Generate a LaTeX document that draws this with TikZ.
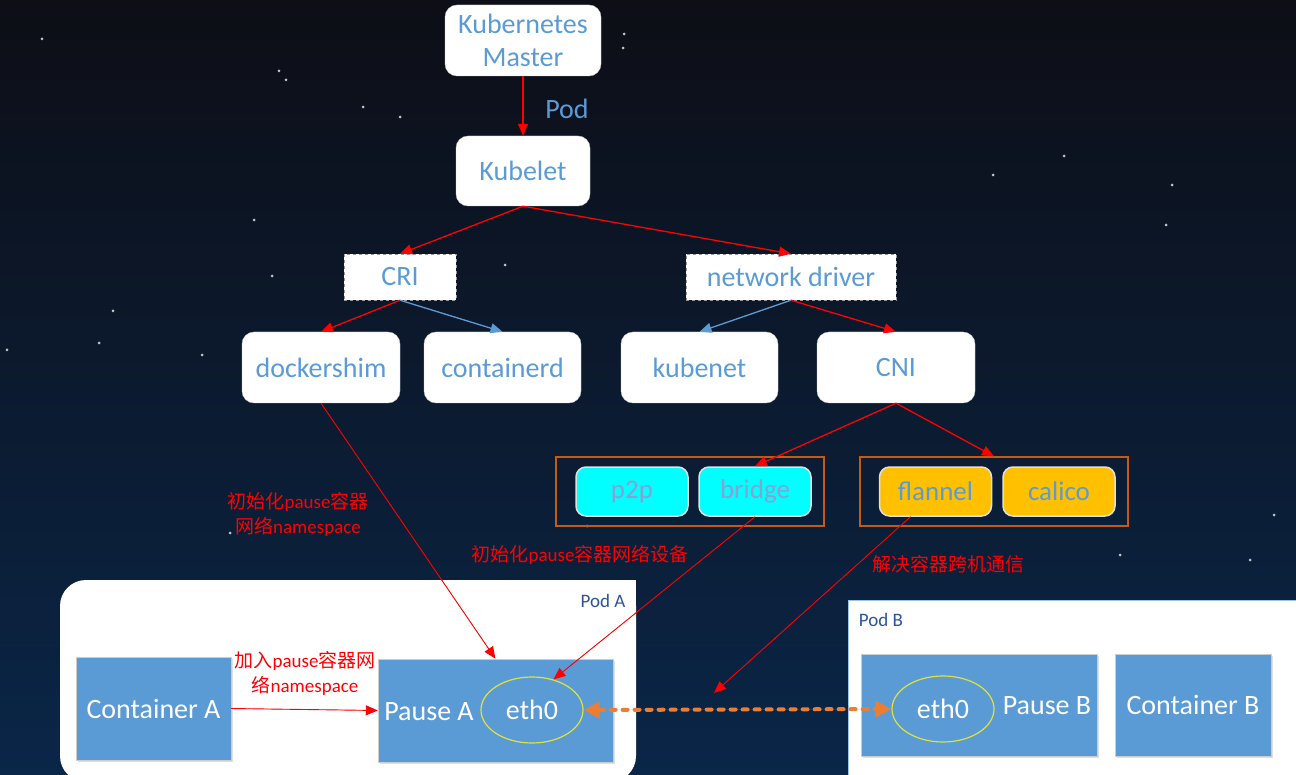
\documentclass[tikz,border=0pt]{standalone}
\usepackage{fontspec}
\setmainfont{Carlito}
\newfontfamily\cjk{Noto Sans CJK SC}
\usepackage{tikz}
\usetikzlibrary{shapes,arrows.meta,positioning}
\usetikzlibrary{shadows}

\definecolor{kblue}{RGB}{91,155,213}
\definecolor{kred}{RGB}{255,0,0}
\definecolor{korange}{RGB}{237,125,49}
\definecolor{kframe}{RGB}{197,90,17}
\definecolor{kcyan}{RGB}{0,255,255}
\definecolor{kgold}{RGB}{255,192,0}
\definecolor{klav}{RGB}{138,160,210}
\definecolor{kpod}{RGB}{46,84,150}
\definecolor{kyel}{RGB}{225,225,60}
\definecolor{ktop}{RGB}{13,14,22}
\definecolor{kbot}{RGB}{10,38,72}

\newcommand{\zh}[1]{{\cjk #1}}
\newcommand{\bigtxt}{\fontsize{28}{33}\selectfont}

\tikzset{
	wbox/.style={draw=gray!40, fill=white, rounded corners=12pt, text=kblue, font=\bigtxt, inner sep=0pt, align=center},
	dbox/.style={draw=gray!80, dashed, fill=white, text=kblue, font=\bigtxt, inner sep=0pt},
	plug/.style={draw=gray!25, line width=1.5pt, rounded corners=10pt, font=\fontsize{27}{30}\selectfont, minimum width=112pt, minimum height=49pt, inner sep=0pt},
	frame/.style={draw=kframe, line width=1.3pt, minimum width=268pt, minimum height=69pt, inner sep=0pt},
	cbox/.style={draw=gray!40, fill=kblue, text=white, font=\bigtxt, inner sep=0pt, drop shadow={opacity=0.25, shadow xshift=2pt, shadow yshift=-2pt}},
	eth/.style={ellipse, draw=kyel, line width=1.2pt, minimum width=102pt, minimum height=66pt, inner sep=0pt, text=white, font=\bigtxt},
	note/.style={text=kred, font=\fontsize{19}{25}\selectfont, align=center},
	redarr/.style={-{Triangle[length=12pt,width=10pt]}, draw=kred, fill=kred, line width=1.3pt},
	bluearr/.style={-{Triangle[length=12pt,width=10pt]}, draw=kblue, fill=kblue, line width=1.3pt},
	thinarr/.style={-{Triangle[length=12pt,width=10pt]}, draw=kred, fill=kred, line width=0.9pt}
}

\begin{document}
\begin{tikzpicture}[x=1pt, y=-1pt]
	\useasboundingbox (0,0) rectangle (1296,775);
	\shade[top color=ktop, bottom color=kbot] (0,0) rectangle (1296,775);
	% stars
	\foreach \x/\y in {42/39, 279/71, 286/80, 363/107, 400/117, 254/220, 272/276, 329/329, 113/311, 99/343, 7/350, 202/355, 624/34, 623/48, 993/175, 1064/156, 1172/185, 1166/225, 1120/555, 1274/515, 1250/560, 587/526, 230/533, 505/265}
		\fill[gray!45] (\x,\y) circle (1.5pt);

	% pods
	\fill[white, rounded corners=26pt] (60,580) rectangle (636,782);
	\fill[white] (600,580) rectangle (636,620);
	\node[text=kpod, font=\fontsize{19}{22}\selectfont] (podA) at (603,601) {Pod A};
	\fill[white] (848,600) rectangle (1300,780);
	\draw[kblue!60, line width=0.8pt] (848,780) -- (848,600) -- (1300,600);
	\node[text=kpod, font=\fontsize{19}{22}\selectfont] (podB) at (881,620) {Pod B};

	% control plane
	\node[wbox, minimum width=156pt, minimum height=71pt] (master) at (523,40.5) {Kubernetes\\Master};
	\node[wbox, minimum width=134pt, minimum height=70pt] (kubelet) at (523,171) {Kubelet};
	\node[dbox, minimum width=112pt, minimum height=46pt] (cri) at (400,277) {CRI};
	\node[dbox, minimum width=210pt, minimum height=46pt] (netdrv) at (791,277) {network driver};
	\node[wbox, minimum width=158pt, minimum height=71pt] (dockershim) at (321,367.5) {dockershim};
	\node[wbox, minimum width=157pt, minimum height=71pt] (containerd) at (502.5,367.5) {containerd};
	\node[wbox, minimum width=157pt, minimum height=71pt] (kubenet) at (699.5,367.5) {kubenet};
	\node[wbox, minimum width=158pt, minimum height=71pt] (cni) at (896,367.5) {CNI};

	% plugins
	\node[frame] (frameA) at (690,491.5) {};
	\node[frame] (frameB) at (994,491.5) {};
	\node[plug, fill=kcyan, text=klav] (p2p) at (632,491.5) {p2p};
	\node[plug, fill=kcyan, text=klav] (bridge) at (755,491.5) {bridge};
	\node[plug, fill=kgold, text=kblue] (flannel) at (935.5,491.5) {flannel};
	\node[plug, fill=kgold, text=kblue] (calico) at (1059,491.5) {calico};

	% containers
	\node[cbox, minimum width=155pt, minimum height=103pt] (contA) at (153.5,708.5) {Container A};
	\node[cbox, minimum width=235pt, minimum height=103pt] (pauseA) at (495.5,710.5) {};
	\node[text=white, font=\bigtxt] (pauseAtxt) at (429,712) {Pause A};
	\node[eth] (ethA) at (532,710) {eth0};
	\node[cbox, minimum width=236pt, minimum height=102pt] (pauseB) at (979,705) {};
	\node[text=white, font=\bigtxt] (pauseBtxt) at (1047,706) {Pause B};
	\node[eth] (ethB) at (943,709) {eth0};
	\node[cbox, minimum width=156pt, minimum height=102pt] (contB) at (1193,705) {Container B};
	\coordinate (hostlink) at (714,693);

	% labels
	\node[text=kblue, font=\bigtxt] (podlbl) at (567,109) {Pod};
	\node[note] (lblns) at (298,514) {\zh{初始化}pause\zh{容器}\\\zh{网络}namespace};
	\node[note] (lbldev) at (580,555) {\zh{初始化}pause\zh{容器网络设备}};
	\node[note] (lblhost) at (948,564) {\zh{解决容器跨机通信}};
	\node[note] (lbljoin) at (305,673) {\zh{加入}pause\zh{容器网}\\\zh{络}namespace};

	% arrows
	\draw [redarr] (master) -- (kubelet);
	\draw [redarr] (kubelet.south) -- (cri.north);
	\draw [redarr] (kubelet.south) -- (netdrv.north);
	\draw [redarr] (cri.south) -- (dockershim.north);
	\draw [bluearr] (cri.south) -- (containerd.north);
	\draw [bluearr] (netdrv.south) -- (kubenet.north);
	\draw [redarr] (netdrv.south) -- (cni.north);
	\draw [redarr] (cni.south) -- (bridge.north);
	\draw [redarr] (cni.south) -- (frameB.north);
	\draw [thinarr] (dockershim.south) -- (pauseA.north);
	\draw [thinarr] (bridge.south) -- (ethA.55);
	\draw [thinarr] ([xshift=-25pt]flannel.south) -- (hostlink);
	\draw [thinarr] (contA.east) -- (pauseA.west);
	\draw [{Triangle[length=16pt,width=16pt]}-{Triangle[length=16pt,width=16pt]}, draw=korange, fill=korange, line width=4pt, dash pattern=on 5pt off 7pt, line cap=round] (ethA.east) -- (ethB.west);
\end{tikzpicture}
\end{document}
